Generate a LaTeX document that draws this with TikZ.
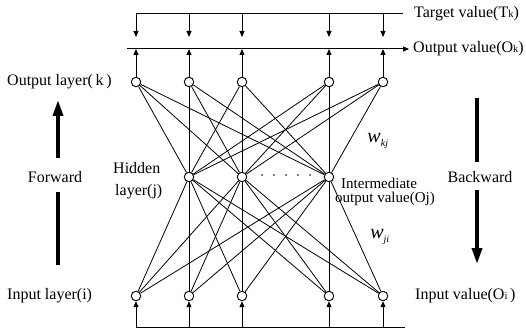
\documentclass[tikz,border=0pt]{standalone}
\usepackage{fontspec}
\setmainfont{Liberation Serif}
\usetikzlibrary{arrows.meta}
\begin{document}
\begin{tikzpicture}[x=1pt,y=-1pt,
  neuron/.style={circle,draw,line width=0.9pt,minimum size=9.5pt,inner sep=0pt,fill=white},
  lbl/.style={font=\fontsize{16}{18}\selectfont, inner sep=0pt},
  slbl/.style={font=\fontsize{15}{17}\selectfont, inner sep=0pt},
  conn/.style={line width=0.8pt},
  sarrow/.style={line width=1pt,-{Triangle[length=6pt,width=5pt]}},
  bigline/.style={line width=3.5pt},
  bigarrow/.style={line width=3.5pt,-{Triangle[length=16pt,width=10pt]}}]
\useasboundingbox (0,0) rectangle (526,331);
% coordinates for bus lines
\foreach \n/\x in {1/136,2/189,3/242,4/329,5/383}{
  \coordinate (t\n) at (\x,14);
  \coordinate (d\n) at (\x,37);
  \coordinate (m\n) at (\x,49);
  \coordinate (b\n) at (\x,327);
}
% neurons
\foreach \n/\x in {1/136,2/189,3/242,4/329,5/383}{
  \node[neuron] (o\n) at (\x,82) {};
  \node[neuron] (i\n) at (\x,296) {};
}
\foreach \n/\x in {1/189,2/242,3/329}
  \node[neuron] (h\n) at (\x,177) {};
% connections
\foreach \a in {1,...,5}{
  \foreach \b in {1,2,3}{
    \draw[conn] (o\a) -- (h\b);
    \draw[conn] (i\a) -- (h\b);
  }
}
% labels
\node[lbl,anchor=west] (tgt) at (414,14) {Target value(T{\fontsize{10.5}{10}\selectfont k})};
\node[lbl,anchor=west] (outv) at (413,49) {Output value(O{\fontsize{10.5}{10}\selectfont k})};
\node[lbl,anchor=west] (outl) at (7,82) {Output layer(\,k\,)};
\node[lbl,anchor=west] (inl) at (7,296) {Input layer(i)};
\node[lbl,anchor=west] (inv) at (415,296) {Input value(O{\fontsize{10.5}{10}\selectfont i}\,)};
\node[lbl,anchor=west] (hid1) at (113,168) {Hidden};
\node[lbl,anchor=west] (hid2) at (115,192) {layer(j)};
\node[slbl,anchor=west] (im1) at (341,183) {Intermediate};
\node[slbl,anchor=west] (im2) at (335,199) {output value(Oj)};
\node[inner sep=0pt] (wkj) at (378,141) {\fontsize{20}{20}\selectfont\textit{w}\textsubscript{\fontsize{10}{10}\selectfont\textit{kj}}};
\node[inner sep=0pt] (wji) at (380,237) {\fontsize{20}{20}\selectfont\textit{w}\textsubscript{\fontsize{10}{10}\selectfont\textit{ji}}};
% dots
\foreach \x in {262,274,286,298,310} \fill (\x,175) circle (0.9pt);
% target bus
\coordinate (tend) at (403,14);
\draw[line width=1pt] (t1) -- (tend);
\foreach \n in {1,...,5} \draw[sarrow] (t\n) -- (d\n);
% output bus
\coordinate (ostart) at (127,49);
\coordinate (oend) at (409,49);
\draw[line width=1pt,-{Triangle[length=6pt,width=5pt]}] (ostart) -- (oend);
\foreach \n in {1,...,5} \draw[sarrow] (o\n) -- (m\n);
% input bus
\coordinate (bend) at (405,327);
\draw[line width=1pt] (b1) -- (bend);
\foreach \n in {1,...,5} \draw[sarrow] (b\n) -- (i\n);
% forward / backward
\node[lbl] (fwd) at (55,177) {Forward};
\coordinate (fwdbot) at (58,265);
\coordinate (fwdtop) at (58,100);
\coordinate (fwdgapb) at (58,192);
\coordinate (fwdgapt) at (58,158);
\draw[bigline] (fwdbot) -- (fwdgapb);
\draw[bigarrow] (fwdgapt) -- (fwdtop);
\node[lbl] (bkw) at (480,177) {Backward};
\coordinate (bktop) at (477,98);
\coordinate (bktip) at (477,264);
\coordinate (bkgapt) at (477,162);
\coordinate (bkgapb) at (477,190);
\draw[bigline] (bktop) -- (bkgapt);
\draw[bigarrow] (bkgapb) -- (bktip);
\end{tikzpicture}
\end{document}
